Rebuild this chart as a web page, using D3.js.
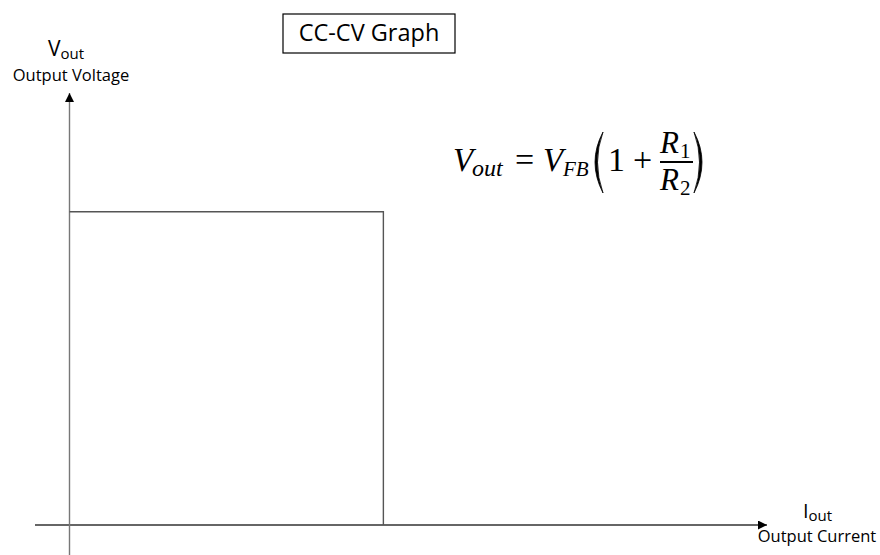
<!DOCTYPE html>
<meta charset="utf-8">
<body style="margin:0;background:#fff">
<script src="https://cdn.jsdelivr.net/npm/d3@7/dist/d3.min.js"></script>
<script>
	// chart values
	var title = "CC-CV Graph";
	var xLabel = ["I", "out", "Output Current"];
	var yLabel = ["V", "out", "Output Voltage"];
	var axisMax = [10, 10];          // x max, y max
	var ccCurrent = [0, 4.5, 4.5];   // I of the CC-CV path
	var cvVoltage = [7.25, 7.25, 0]; // V of the CC-CV path

	var width = 880, height = 555;
	var svg = d3.select("body").append("svg")
		.attr("width", width)
		.attr("height", height)
		.style("display", "block");

	var x = d3.scaleLinear().domain([0, axisMax[0]]).range([69.5, 767]);
	var y = d3.scaleLinear().domain([0, axisMax[1]]).range([525, 93]);

	// arrow heads
	var defs = svg.append("defs");
	defs.append("marker")
		.attr("id", "arrow")
		.attr("viewBox", "0 0 10 10")
		.attr("refX", 10).attr("refY", 5)
		.attr("markerWidth", 9).attr("markerHeight", 9)
		.attr("markerUnits", "userSpaceOnUse")
		.attr("orient", "auto")
		.append("path").attr("d", "M0,0L10,5L0,10Z").attr("fill", "#000");

	// x axis
	svg.append("line")
		.attr("x1", 35).attr("x2", x(axisMax[0]))
		.attr("y1", y(0)).attr("y2", y(0))
		.attr("stroke", "#333").attr("stroke-width", 1.4)
		.attr("marker-end", "url(#arrow)");
	// y axis
	svg.append("line")
		.attr("x1", x(0)).attr("x2", x(0))
		.attr("y1", height).attr("y2", y(axisMax[1]))
		.attr("stroke", "#777").attr("stroke-width", 1.4)
		.attr("marker-end", "url(#arrow)");

	// CC-CV path
	var pts = ccCurrent.map(function(d, i){ return [d, cvVoltage[i]]; });
	svg.append("path")
		.datum(pts)
		.attr("d", d3.line().x(function(d){ return x(d[0]); }).y(function(d){ return y(d[1]); }))
		.attr("fill", "none")
		.attr("stroke", "#555")
		.attr("stroke-width", 1.4);

	// title box
	svg.append("rect")
		.attr("x", 283).attr("y", 14).attr("width", 172).attr("height", 39)
		.attr("fill", "none").attr("stroke", "#000").attr("stroke-width", 1.2);
	svg.append("text")
		.attr("x", 369).attr("y", 41)
		.attr("text-anchor", "middle")
		.attr("font-family", "Open Sans")
		.attr("font-size", 23.5)
		.text(title);

	// y label
	var yl = svg.append("text")
		.attr("font-family", "Open Sans")
		.attr("fill", "#000");
	yl.append("tspan").attr("x", 48).attr("y", 56).attr("font-size", 21).text(yLabel[0]);
	yl.append("tspan").attr("dy", 3).attr("font-size", 15).text(yLabel[1]);
	svg.append("text")
		.attr("x", 71).attr("y", 81)
		.attr("text-anchor", "middle")
		.attr("font-family", "Open Sans")
		.attr("font-size", 16.5)
		.text(yLabel[2]);

	// x label
	var xl = svg.append("text")
		.attr("font-family", "Open Sans")
		.attr("fill", "#000");
	xl.append("tspan").attr("x", 803).attr("y", 518).attr("font-size", 20).text(xLabel[0]);
	xl.append("tspan").attr("dy", 3).attr("font-size", 15).text(xLabel[1]);
	svg.append("text")
		.attr("x", 817).attr("y", 542)
		.attr("text-anchor", "middle")
		.attr("font-family", "Open Sans")
		.attr("font-size", 16.5)
		.text(xLabel[2]);

	// formula
	var f = svg.append("g")
		.attr("font-family", "Liberation Serif")
		.attr("fill", "#000");
	function t(px, py, s, size, italic){
		f.append("text").attr("x", px).attr("y", py)
			.attr("font-size", size)
			.attr("font-style", italic ? "italic" : "normal")
			.text(s);
	}
	t(453, 171, "V", 33, true);
	t(472, 176, "out", 24, true);
	t(515, 171, "=", 34, false);
	t(543, 171, "V", 33, true);
	t(563, 176, "FB", 21, true);
	t(608, 171, "1", 34, false);
	t(633, 171, "+", 34, false);
	t(660, 153, "R", 31, true);
	t(680, 158, "1", 21, false);
	t(660, 190, "R", 31, true);
	t(680, 195, "2", 21, false);
	f.append("line")
		.attr("x1", 660).attr("x2", 693).attr("y1", 162).attr("y2", 162)
		.attr("stroke", "#000").attr("stroke-width", 1.8);
	// big parentheses
	f.append("path")
		.attr("d", "M603,132 Q587,162 603,193 Q592,162 603,132Z")
		.attr("fill", "#000").attr("stroke", "#000").attr("stroke-width", 0.8);
	f.append("path")
		.attr("d", "M694,132 Q710,162 694,193 Q705,162 694,132Z")
		.attr("fill", "#000").attr("stroke", "#000").attr("stroke-width", 0.8);
</script>
</body>
